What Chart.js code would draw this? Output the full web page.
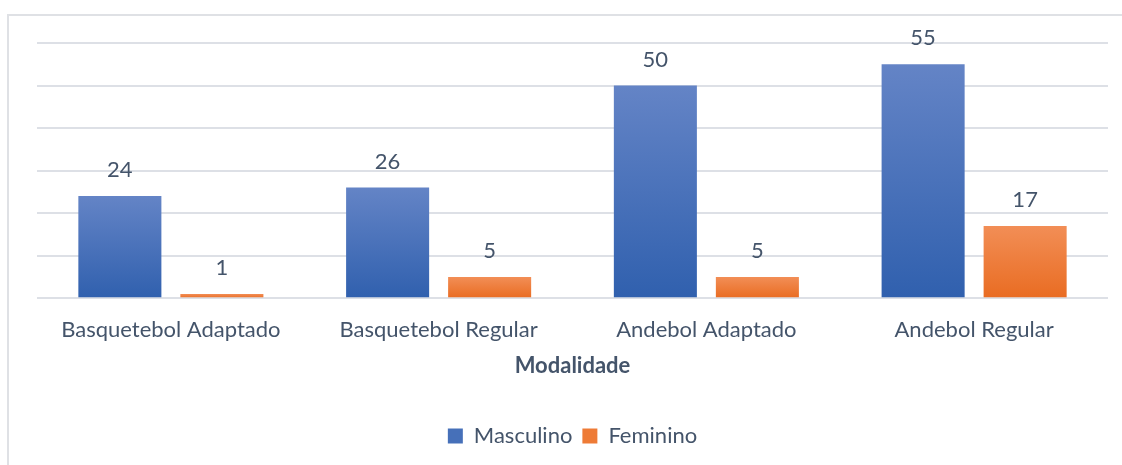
<!DOCTYPE html>
<html><head><meta charset="utf-8">
<script src="https://cdn.jsdelivr.net/npm/chart.js@4"></script>
<style>html,body{margin:0;padding:0;background:#fff}#w{width:1122px;height:465px;position:relative}</style>
</head><body><div id="w"><canvas id="c" width="1122" height="465"></canvas></div>
<script>
const categories = ['Basquetebol Adaptado','Basquetebol Regular','Andebol Adaptado','Andebol Regular'];
const masculino = [24, 26, 50, 55];
const feminino = [1, 5, 5, 17];
const seriesNames = ['Masculino','Feminino'];
const axisTitle = 'Modalidade';
const yMax = 60, yStep = 10;

const TXT = '#44546a';
const FONT = 'Lato, "Open Sans", sans-serif';
const FS = 22;

function grad(top, bottom){
  return (ctx)=>{
    const ch = ctx.chart;
    if (!ch.chartArea || ctx.dataIndex === undefined) return bottom;
    const v = ctx.dataset.data[ctx.dataIndex];
    const ys = ch.scales.y;
    const y0 = ys.getPixelForValue(v), y1 = ys.getPixelForValue(0);
    if (!isFinite(y0) || y1 - y0 < 1) return bottom;
    const g = ch.ctx.createLinearGradient(0, y0, 0, y1);
    g.addColorStop(0, top); g.addColorStop(1, bottom);
    return g;
  };
}

const frame = {
  id:'frame',
  beforeDraw(ch){
    const c = ch.ctx; c.save();
    c.strokeStyle = '#dfe1e5'; c.lineWidth = 2;
    c.strokeRect(8, 15, 1130, 470);
    c.restore();
  }
};
const labels = {
  id:'labels',
  afterDatasetsDraw(ch){
    const c = ch.ctx; c.save();
    c.fillStyle = TXT; c.font = FS + 'px ' + FONT; c.textAlign = 'center'; c.textBaseline = 'alphabetic';
    ch.data.datasets.forEach((ds, i)=>{
      ch.getDatasetMeta(i).data.forEach((el, j)=>{
        c.fillText(String(ds.data[j]), el.x, el.y - 19);
      });
    });
    c.restore();
  }
};

new Chart(document.getElementById('c'), {
  type:'bar',
  data:{
    labels: categories,
    datasets:[
      {label: seriesNames[0], data: masculino, backgroundColor: grad('#6484c6', '#3060ae')},
      {label: seriesNames[1], data: feminino, backgroundColor: grad('#f28e56', '#e96c22')}
    ]
  },
  options:{
    responsive:false, animation:false,
    layout:{padding:{left:37, right:14, top:43, bottom:8}},
    datasets:{bar:{categoryPercentage:0.762, barPercentage:0.814}},
    scales:{
      x:{
        grid:{display:false}, border:{display:false},
        ticks:{color:TXT, font:{family:FONT, size:FS}, padding:11},
        title:{display:true, text:axisTitle, color:TXT, font:{family:FONT, size:FS, weight:'bold'}, padding:{top:-2, bottom:36}}
      },
      y:{
        min:0, max:yMax,
        ticks:{display:false, stepSize:yStep},
        border:{display:false},
        grid:{color:'#dde0e6', lineWidth:2, drawTicks:false}
      }
    },
    plugins:{
      legend:{position:'bottom', labels:{color:TXT, font:{family:FONT, size:FS}, boxWidth:15, boxHeight:15, padding:10,
        generateLabels(ch){
          return ch.data.datasets.map((d,i)=>({text:d.label, fillStyle: i===0?'#4670b9':'#ee7b36', strokeStyle:'transparent', lineWidth:0, datasetIndex:i, fontColor:TXT}));
        }}},
      tooltip:{enabled:false}
    }
  },
  plugins:[frame, labels]
});
</script></body></html>
